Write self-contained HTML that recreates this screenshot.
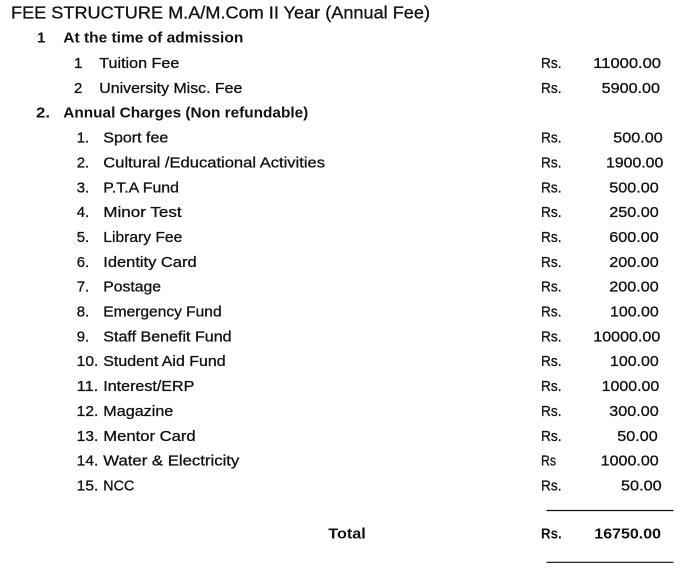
<!DOCTYPE html>
<html>
<head>
<meta charset="utf-8">
<style>
  html, body { margin: 0; padding: 0; background: #ffffff; }
  body { width: 691px; height: 573px; overflow: hidden; }
  svg { display: block; }
  text { font-family: "Liberation Sans", Arial, sans-serif; fill: #111; }
  .r { font-size: 15px; stroke: #111; stroke-width: 0.3px; }
  .b { font-size: 15px; font-weight: bold; }
  .t { font-size: 17.5px; stroke: #111; stroke-width: 0.3px; }
</style>
</head>
<body>
<svg width="691" height="573" viewBox="0 0 691 573" xmlns="http://www.w3.org/2000/svg">
  <rect x="0" y="0" width="691" height="573" fill="#ffffff"/>

  <!-- Title -->
  <text class="t" x="11" y="18.5" textLength="419" lengthAdjust="spacingAndGlyphs">FEE STRUCTURE M.A/M.Com II Year (Annual Fee)</text>

  <!-- Section 1 -->
  <text class="b" x="37" y="42.7">1</text>
  <text class="b" x="63.3" y="42.7" textLength="180" lengthAdjust="spacingAndGlyphs">At the time of admission</text>

  <text class="r" x="74" y="68">1</text>
  <text class="r" x="99.3" y="68" textLength="80" lengthAdjust="spacingAndGlyphs">Tuition Fee</text>
  <text class="r" x="541" y="68" textLength="20.5" lengthAdjust="spacingAndGlyphs">Rs.</text>
  <text class="r" x="593.3" y="68" textLength="67.7" lengthAdjust="spacingAndGlyphs">11000.00</text>

  <text class="r" x="74" y="92.85">2</text>
  <text class="r" x="99.3" y="92.85" textLength="143" lengthAdjust="spacingAndGlyphs">University Misc. Fee</text>
  <text class="r" x="541" y="92.85" textLength="20.5" lengthAdjust="spacingAndGlyphs">Rs.</text>
  <text class="r" x="601.7" y="92.85" textLength="58.3" lengthAdjust="spacingAndGlyphs">5900.00</text>

  <!-- Section 2 -->
  <text class="b" x="36" y="117.7" textLength="14" lengthAdjust="spacingAndGlyphs">2.</text>
  <text class="b" x="63.3" y="117.7" textLength="245" lengthAdjust="spacingAndGlyphs">Annual Charges (Non refundable)</text>

  <text class="r" x="76.7" y="142.55">1.</text>
  <text class="r" x="103.3" y="142.55" textLength="65" lengthAdjust="spacingAndGlyphs">Sport fee</text>
  <text class="r" x="541" y="142.55" textLength="20.5" lengthAdjust="spacingAndGlyphs">Rs.</text>
  <text class="r" x="613.3" y="142.55" textLength="49.4" lengthAdjust="spacingAndGlyphs">500.00</text>

  <text class="r" x="76.7" y="167.4">2.</text>
  <text class="r" x="103.3" y="167.4" textLength="221.7" lengthAdjust="spacingAndGlyphs">Cultural /Educational Activities</text>
  <text class="r" x="541" y="167.4" textLength="20.5" lengthAdjust="spacingAndGlyphs">Rs.</text>
  <text class="r" x="606" y="167.4" textLength="57.3" lengthAdjust="spacingAndGlyphs">1900.00</text>

  <text class="r" x="76.7" y="192.25">3.</text>
  <text class="r" x="103.3" y="192.25" textLength="75.7" lengthAdjust="spacingAndGlyphs">P.T.A Fund</text>
  <text class="r" x="541" y="192.25" textLength="20.5" lengthAdjust="spacingAndGlyphs">Rs.</text>
  <text class="r" x="609.3" y="192.25" textLength="49.4" lengthAdjust="spacingAndGlyphs">500.00</text>

  <text class="r" x="76.7" y="217.1">4.</text>
  <text class="r" x="103.3" y="217.1" textLength="78.3" lengthAdjust="spacingAndGlyphs">Minor Test</text>
  <text class="r" x="541" y="217.1" textLength="20.5" lengthAdjust="spacingAndGlyphs">Rs.</text>
  <text class="r" x="609.3" y="217.1" textLength="49.4" lengthAdjust="spacingAndGlyphs">250.00</text>

  <text class="r" x="76.7" y="241.95">5.</text>
  <text class="r" x="103.3" y="241.95" textLength="79" lengthAdjust="spacingAndGlyphs">Library Fee</text>
  <text class="r" x="541" y="241.95" textLength="20.5" lengthAdjust="spacingAndGlyphs">Rs.</text>
  <text class="r" x="609.3" y="241.95" textLength="49.4" lengthAdjust="spacingAndGlyphs">600.00</text>

  <text class="r" x="76.7" y="266.8">6.</text>
  <text class="r" x="103.3" y="266.8" textLength="93.3" lengthAdjust="spacingAndGlyphs">Identity Card</text>
  <text class="r" x="541" y="266.8" textLength="20.5" lengthAdjust="spacingAndGlyphs">Rs.</text>
  <text class="r" x="609.3" y="266.8" textLength="49.4" lengthAdjust="spacingAndGlyphs">200.00</text>

  <text class="r" x="76.7" y="291.65">7.</text>
  <text class="r" x="103.3" y="291.65" textLength="57.7" lengthAdjust="spacingAndGlyphs">Postage</text>
  <text class="r" x="541" y="291.65" textLength="20.5" lengthAdjust="spacingAndGlyphs">Rs.</text>
  <text class="r" x="609.3" y="291.65" textLength="49.4" lengthAdjust="spacingAndGlyphs">200.00</text>

  <text class="r" x="76.7" y="316.5">8.</text>
  <text class="r" x="103.3" y="316.5" textLength="118.3" lengthAdjust="spacingAndGlyphs">Emergency Fund</text>
  <text class="r" x="541" y="316.5" textLength="20.5" lengthAdjust="spacingAndGlyphs">Rs.</text>
  <text class="r" x="610" y="316.5" textLength="48.7" lengthAdjust="spacingAndGlyphs">100.00</text>

  <text class="r" x="76.7" y="341.35">9.</text>
  <text class="r" x="103.3" y="341.35" textLength="128.3" lengthAdjust="spacingAndGlyphs">Staff Benefit Fund</text>
  <text class="r" x="541" y="341.35" textLength="20.5" lengthAdjust="spacingAndGlyphs">Rs.</text>
  <text class="r" x="593.3" y="341.35" textLength="67" lengthAdjust="spacingAndGlyphs">10000.00</text>

  <text class="r" x="76.7" y="366.2" textLength="21.6" lengthAdjust="spacingAndGlyphs">10.</text>
  <text class="r" x="103.3" y="366.2" textLength="122.3" lengthAdjust="spacingAndGlyphs">Student Aid Fund</text>
  <text class="r" x="541" y="366.2" textLength="20.5" lengthAdjust="spacingAndGlyphs">Rs.</text>
  <text class="r" x="610" y="366.2" textLength="48.7" lengthAdjust="spacingAndGlyphs">100.00</text>

  <text class="r" x="76.7" y="391.05" textLength="21.6" lengthAdjust="spacingAndGlyphs">11.</text>
  <text class="r" x="103.3" y="391.05" textLength="91" lengthAdjust="spacingAndGlyphs">Interest/ERP</text>
  <text class="r" x="541" y="391.05" textLength="20.5" lengthAdjust="spacingAndGlyphs">Rs.</text>
  <text class="r" x="601.7" y="391.05" textLength="57.6" lengthAdjust="spacingAndGlyphs">1000.00</text>

  <text class="r" x="76.7" y="415.9" textLength="21.6" lengthAdjust="spacingAndGlyphs">12.</text>
  <text class="r" x="103.3" y="415.9" textLength="70" lengthAdjust="spacingAndGlyphs">Magazine</text>
  <text class="r" x="541" y="415.9" textLength="20.5" lengthAdjust="spacingAndGlyphs">Rs.</text>
  <text class="r" x="609.3" y="415.9" textLength="49.4" lengthAdjust="spacingAndGlyphs">300.00</text>

  <text class="r" x="76.7" y="440.75" textLength="21.6" lengthAdjust="spacingAndGlyphs">13.</text>
  <text class="r" x="103.3" y="440.75" textLength="92.3" lengthAdjust="spacingAndGlyphs">Mentor Card</text>
  <text class="r" x="541" y="440.75" textLength="20.5" lengthAdjust="spacingAndGlyphs">Rs.</text>
  <text class="r" x="617.3" y="440.75" textLength="40.4" lengthAdjust="spacingAndGlyphs">50.00</text>

  <text class="r" x="76.7" y="465.6" textLength="21.6" lengthAdjust="spacingAndGlyphs">14.</text>
  <text class="r" x="103.3" y="465.6" textLength="136" lengthAdjust="spacingAndGlyphs">Water &amp; Electricity</text>
  <text class="r" x="541" y="465.6" textLength="15" lengthAdjust="spacingAndGlyphs">Rs</text>
  <text class="r" x="600.7" y="465.6" textLength="58" lengthAdjust="spacingAndGlyphs">1000.00</text>

  <text class="r" x="76.7" y="490.45" textLength="21.6" lengthAdjust="spacingAndGlyphs">15.</text>
  <text class="r" x="103.3" y="490.45" textLength="31" lengthAdjust="spacingAndGlyphs">NCC</text>
  <text class="r" x="541" y="490.45" textLength="20.5" lengthAdjust="spacingAndGlyphs">Rs.</text>
  <text class="r" x="621" y="490.45" textLength="40.7" lengthAdjust="spacingAndGlyphs">50.00</text>

  <!-- Total lines -->
  <line x1="546.5" y1="510.5" x2="673.5" y2="510.5" stroke="#111" stroke-width="1.2"/>
  <text class="b" x="328.3" y="538.3" textLength="37.4" lengthAdjust="spacingAndGlyphs">Total</text>
  <text class="b" x="541" y="538.3" textLength="20.7" lengthAdjust="spacingAndGlyphs">Rs.</text>
  <text class="b" x="594.3" y="538.3" textLength="66.7" lengthAdjust="spacingAndGlyphs">16750.00</text>
  <line x1="546.5" y1="562.3" x2="673.5" y2="562.3" stroke="#111" stroke-width="1.2"/>
</svg>
</body>
</html>
